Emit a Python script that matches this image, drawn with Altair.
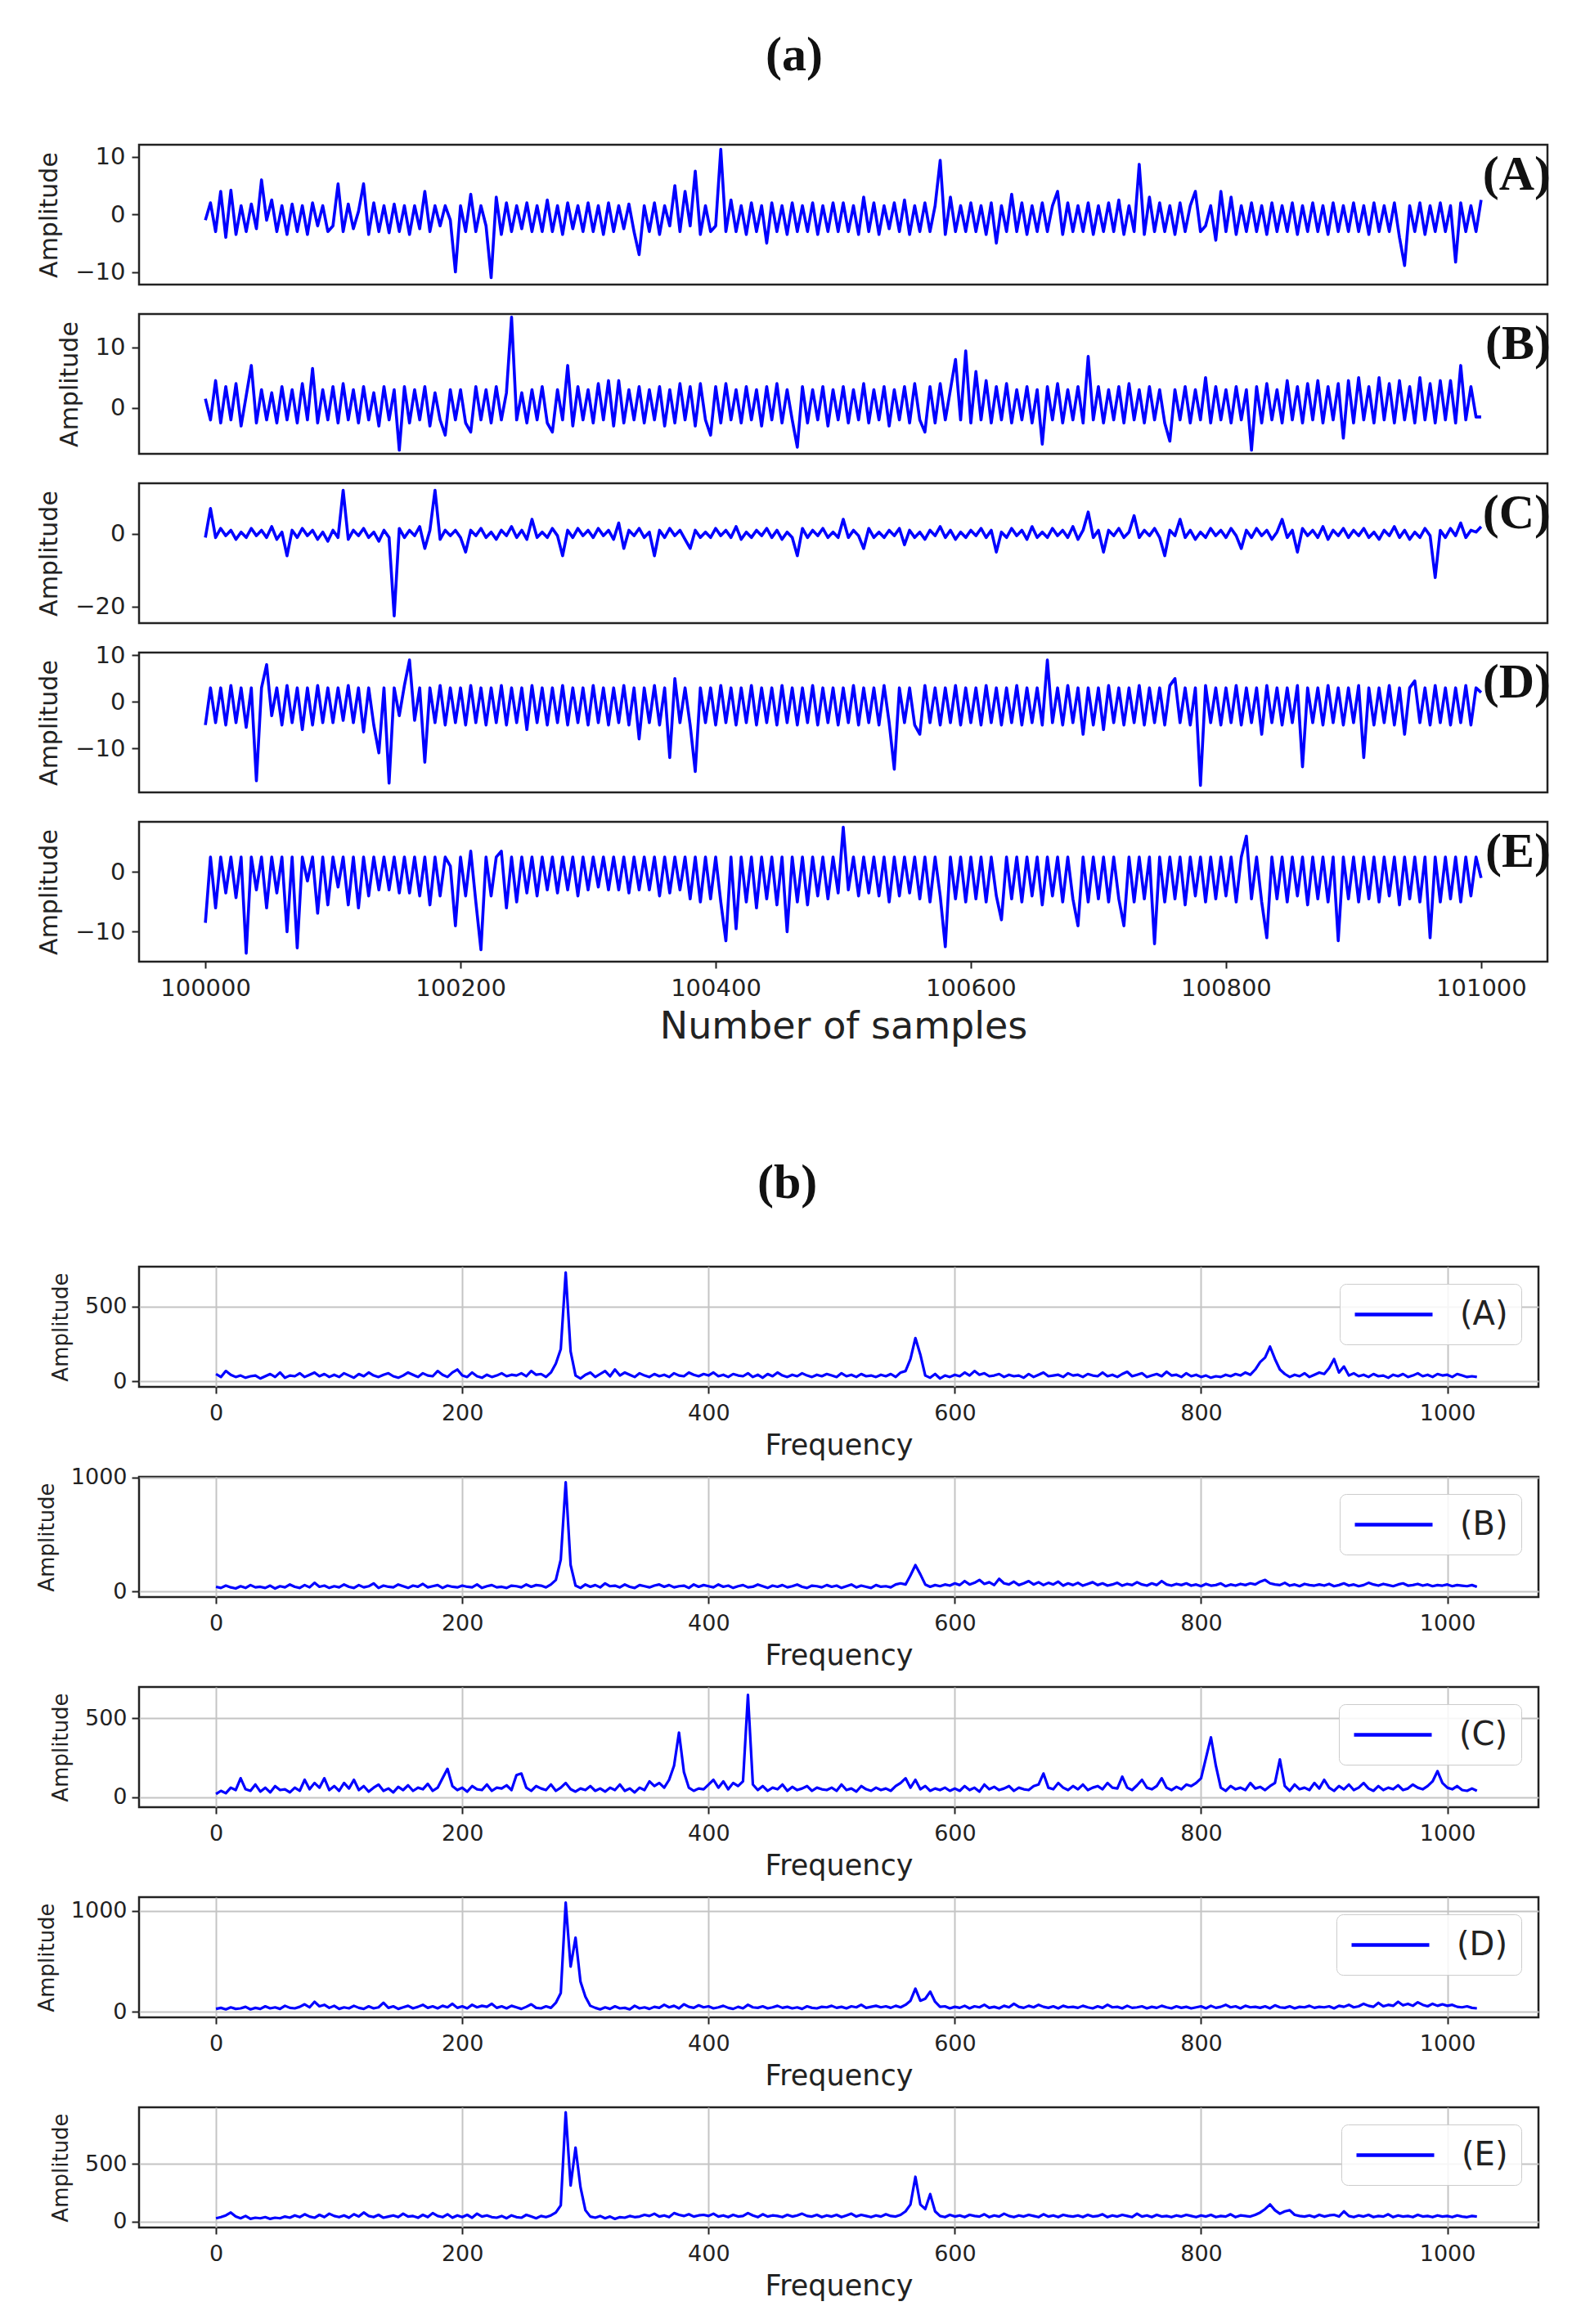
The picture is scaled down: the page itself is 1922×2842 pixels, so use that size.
import altair as alt
import pandas as pd

# ---------------- data ----------------
T0 = 100000
T_STEP = 4
F_STEP = 4
TIME_TICKS = [100000, 100200, 100400, 100600, 100800, 101000]
FREQ_TICKS = [0, 200, 400, 600, 800, 1000]

time_labels = ["(A)", "(B)", "(C)", "(D)", "(E)"]
freq_labels = ["(A)", "(B)", "(C)", "(D)", "(E)"]

time_A = (
    [-1, 2, -3, 4, -4, 4.2, -3.5, 1.5, -3, 1.8, -2.5, 6, -1, 2.5, -3, 1.5, -3.5, 1.8, -3, 1.5, -3.5, 2, -2, 1.5, -3]
    + [-2, 5.3, -3, 1.8, -2.5, 0.5, 5.3, -3.5, 2, -3, 1.5, -3.2, 1.8, -3, 1.5, -3.5, 1.5, -2.5, 4, -3, 1.5, -2, 1.5, -1, -10]
    + [1.5, -3, 3.5, -3, 1.5, -2, -11, 3, -3.5, 2, -3, 1.5, -2.5, 2, -3, 1.5, -3, 2.5, -3, 1.5, -3.5, 2, -2.5, 1.5, -3]
    + [2, -3, 1.5, -3.5, 2, -3, 1.5, -2.5, 1.8, -3, -7, 1.5, -3, 2, -3.5, 1.5, -2, 5, -3, 4, -2, 7.5, -3.5, 1.5, -3]
    + [-2, 11.3, -3, 2.5, -3, 1.5, -3.5, 2, -3, 1.5, -5, 2, -3, 1.5, -3.5, 2, -3, 1.5, -3, 2, -3.5, 1.5, -3, 2, -3]
    + [2, -3, 1.5, -3.5, 3, -3, 2, -3.5, 1.5, -2.5, 2, -3, 2.5, -3.5, 1.5, -3, 2, -3, 1.5, 9.4, -3.5, 3, -3, 1.5, -3]
    + [2, -3, 1.5, -3.5, 2, -5, 1.5, -3, 3.5, -3, 2, -3.5, 1.5, -3, 2, -3, 1.5, 4, -3.5, 2, -3, 1.5, -3, 2, -3.5]
    + [1.5, -3, 2, -3, 2.5, -3.5, 1.5, -3, 8.7, -3.5, 3, -3, 2, -3, 1.5, -3.5, 2, -3, 1.5, 4, -3, -2, 1.5, -4.5, 4]
    + [-3, 3, -3.5, 1.5, -3, 2, -3, 1.5, -3.5, 2, -3, 1.5, -3, 2, -3.5, 1.5, -3, 2, -3, 1.5, -3.5, 2, -3, 1.5, -3]
    + [2, -3, 1.5, -3.5, 2, -3, 1.5, -3, 2, -4, -8.9, 1.5, -3, 2, -3.5, 1.5, -3, 2, -3, 1.5, -8.3, 2, -3, 1.5, -3]
    + [2.5]
)

time_B = (
    [1.5, -2, 4.5, -2.5, 3.5, -2, 4, -3, 2, 7, -2.5, 3, -2, 2.5, -2.5, 3.5, -2, 3, -2.5, 4, -2, 6.5, -2.5, 3, -2]
    + [3.5, -2.5, 4, -2, 3, -2.5, 3.5, -2, 2.5, -3, 3.5, -2, 3, -7, 3.5, -2.5, 3, -2, 3.5, -3, 2.5, -2, -4.5, 3, -2]
    + [3, -2.5, -4, 3.5, -2, 3, -2.5, 3.5, -2, 2.5, 15, -2, 2.5, -2.5, 3, -2, 3.5, -2.5, -4, 3, -2, 7, -3, 3.5, -2]
    + [3, -2.5, 4, -2, 4.5, -3, 4.5, -2.5, 3, -2, 3.5, -2.5, 3, -2, 3.5, -3, 3, -2.5, 4, -2, 3.5, -3, 4, -2, -4.5]
    + [3.5, -2.5, 4, -2, 3, -2.5, 3.5, -2, 3, -3, 3.5, -2, 4, -2.5, 3, -2, -6.5, 3.5, -2.5, 3, -2, 3.5, -3, 3, -2]
    + [3.5, -2.5, 3, -2, 4, -2.5, 3, -2, 3.5, -3, 3, -2, 3.5, -2.5, 4, -2, -4, 3.5, -2.5, 4, -2, 3, 8, -2, 9.4]
    + [-2.5, 6, -2, 4.5, -2.5, 3.5, -2, 4, -2.5, 3, -2, 3.5, -2.5, 3, -6, 3.5, -2, 4, -2.5, 3, -2, 3.5, -2.5, 8.5, -2]
    + [3.5, -2.5, 3, -2, 3.5, -2.5, 4, -2, 3, -2.5, 3.5, -2, 3, -2.5, -5.5, 3, -2, 3.5, -2.5, 3, -2, 5, -2.5, 3.5, -2]
    + [3, -2.5, 3.5, -2, 3, -7, 3.5, -2.5, 4, -2, 3, -2.5, 4.5, -2, 3.5, -2.5, 4, -2, 4.5, -2.5, 3.5, -2, 4, -5, 4.5]
    + [-2.5, 5, -2, 3.5, -2.5, 5, -2, 4, -2.5, 4.5, -2, 3.5, -2.5, 5, -2, 4, -2.5, 4.5, -2, 4.5, -2.5, 7, -2, 3.5, -1.5]
    + [-1.5]
)

time_C = (
    [-1, 7, -1, 1.5, -0.5, 1, -1.5, 0.5, -1, 1.5, -0.5, 1, -1, 2, -1.5, 0.5, -6, 1, -1, 1.5, -0.5, 1, -1.5, 0.5, -2]
    + [1, -1, 12, -1.5, 1, -0.5, 1.5, -1, 0.5, -2, 1, -1, -22.5, 1.5, -1, 1, -0.5, 2, -4, 1, 12, -1.5, 1, -0.5, 1]
    + [-1, -5, 1, -0.5, 1.5, -1, 0.5, -1.5, 1, -0.5, 2, -1, 1, -1.5, 4, -1, 0.5, -1, 1.5, -0.5, -6, 1, -1, 1.5, -0.5]
    + [1, -1, 1.5, -0.5, 1, -1.5, 3, -4, 1, -0.5, 1.5, -1, 0.5, -6, 1, -1, 1.5, -0.5, 1, -1.5, -4, 1, -1, 0.5, -1]
    + [1.5, -0.5, 1, -1, 2, -1.5, 0.5, -1, 1, -0.5, 1.5, -1, 1, -1.5, 0.5, -1, -6, 1.5, -1, 1, -0.5, 1.5, -1, 0.5, -1]
    + [4, -1, 1, -0.5, -4, 1.5, -1, 0.5, -1, 1, -0.5, 1.5, -3, 1, -1, 0.5, -1.5, 1, -0.5, 2, -1, 1, -1.5, 0.5, -1]
    + [1, -0.5, 1.5, -1, 1, -5, 0.5, -1, 1.5, -0.5, 1, -1.5, 2, -1, 0.5, -1, 1.5, -0.5, 1, -1, 2, -1.5, 1, 6, -1]
    + [1, -5, 1, -0.5, 1.5, -1, 0.5, 5, -1, 1, -0.5, 1.5, -1, -6, 1, -0.5, 4, -1, 1, -1.5, 0.5, -1, 1.5, -0.5, 1]
    + [-1, 1.5, -0.5, -4, 1, -1, 1.5, -0.5, 1, -1.5, 0.5, 4, -1, 1, -5, 1.5, -0.5, 1, -1, 2, -1.5, 1, -0.5, 1.5, -1]
    + [1, -0.5, 1.5, -1, 0.5, -1.5, 1, -0.5, 2, -1, 1, -1.5, 0.5, -1, 1.5, -0.5, -12, 1, -1, 1.5, -0.5, 3, -1, 1, 0.5]
    + [2]
)

time_D = (
    [-5, 3, -4.5, 3, -5, 3.5, -4.5, 3, -5.5, 3, -17, 3, 8, -3, 3, -5, 3.5, -4.5, 3, -6, 3, -5, 3.5, -4.5, 3]
    + [-4.5, 3, -4, 3.5, -4.5, 3, -6.5, 3, -5, -11, 3, -17.5, 3, -3, 3.5, 9, -4, 3, -13, 3, -4.5, 3.5, -5, 3, -4.5]
    + [3, -5, 3.5, -4.5, 3, -5, 3, -4.5, 3.5, -5, 3, -4.5, 3, -6, 3.5, -4.5, 3, -5, 3, -4.5, 3.5, -5, 3, -4.5, 3]
    + [-5, 3.5, -4.5, 3, -5, 3, -4.5, 3.5, -5, 3, -8, 3, -4.5, 3.5, -5, 3, -12, 5, -4.5, 3, -5, -15, 3, -4.5, 3]
    + [-5, 3.5, -4.5, 3, -5, 3, -4.5, 3.5, -5, 3, -4.5, 3, -5, 3.5, -4.5, 3, -5, 3, -4.5, 3.5, -5, 3, -4.5, 3, -5]
    + [3, -4.5, 3.5, -5, 3, -4.5, 3, -5, 3.5, -4.5, -14.5, 3, -4.5, 3, -5, -7, 3.5, -4.5, 3, -5, 3, -4.5, 3.5, -5, 3]
    + [-4.5, 3, -5, 3.5, -4.5, 3, -5, 3, -4.5, 3.5, -5, 3, -4.5, 3, -5, 9, -4.5, 3, -5, 3.5, -4.5, 3, -7, 3, -5]
    + [3, -6, 3.5, -4.5, 3, -5, 3, -4.5, 3.5, -5, 3, -4.5, 3, -5, 3.5, 5, -4.5, 3, -5, 3, -18, 3.5, -4.5, 3, -5]
    + [3, -4.5, 3.5, -5, 3, -4.5, 3, -7, 3.5, -4.5, 3, -5, 3, -4.5, 3.5, -14, 3, -4.5, 3, -5, 3.5, -4.5, 3, -5, 3]
    + [-4.5, 3.5, -12, 3, -5, 3, -4.5, 3.5, -5, 3, -7, 3, 4.5, -4.5, 3, -5, 3.5, -4.5, 3, -5, 3, -4.5, 3.5, -5, 3]
    + [2]
)

time_E = (
    [-8.5, 2.5, -6, 2.5, -3.5, 2.5, -4.3, 2.5, -13.6, 2.5, -3, 2.5, -6, 2.5, -3.5, 2.5, -10, 2.5, -12.7, 2.5, -1.5, 2.5, -6.9, 2.5, -5.5]
    + [2.5, -2.5, 2.5, -5.5, 2.5, -6, 2.5, -4, 2.5, -3, 2.5, -3, 2.5, -3.5, 2.5, -3.5, 2.5, -4, 2.5, -5.5, 2.5, -4, 2.5, 1, -9]
    + [2.5, -4, 3.5, -5, -13, 2.5, -4, 2.5, 3.5, -6, 2.5, -5, 2.5, -3.5, 2.5, -4, 2.5, -3, 2.5, -3.5, 2.5, -3, 2.5, -4, 2.5]
    + [-3, 2.5, -2.5, 2.5, -3, 2.5, -3, 2.5, -3.5, 2.5, -3, 2.5, -3, 2.5, -4, 2.5, -3.5, 2.5, -3, 2.5, -4.5, 2.5, -5, 2.5, -4.5]
    + [2.5, -5, -11.5, 2.5, -9.5, 2.5, -5, 2.5, -6, 2.5, -4.5, 2.5, -5.5, 2.5, -10, 2.5, -5, 2.5, -5.5, 2.5, -4, 2.5, -4.5, 2.5, -3.5]
    + [7.5, -3, 2.5, -4, 2.5, -3.5, 2.5, -4, 2.5, -5, 2.5, -4, 2.5, -3.5, 2.5, -4.5, 2.5, -5, 2.5, -4, -12.5, 2.5, -4.5, 2.5, -5]
    + [2.5, -4.5, 2.5, -5, 2.5, -4, -8, 2.5, -4.5, 2.5, -5, 2.5, -4, 2.5, -5.5, 2.5, -4, 2.5, -5, 2.5, -4.5, -9, 2.5, -5, 2.5]
    + [-4.5, 2.5, -5, 2.5, -4.5, -9, 2.5, -5, 2.5, -4.5, 2.5, -12, 2.5, -5, 2.5, -4.5, 2.5, -5.5, 2.5, -4, 2.5, -5, 2.5, -4.5, 2.5]
    + [-4, 2.5, -5, 2.5, 6, -4.5, 2.5, -5, -11, 2.5, -4.5, 2.5, -5, 2.5, -4, 2.5, -5.5, 2.5, -4.5, 2.5, -5, 2.5, -11.5, 2.5, -4.5]
    + [2.5, -5, 2.5, -4.5, 2.5, -5, 2.5, -4, 2.5, -5.5, 2.5, -4.5, 2.5, -5, 2.5, -11, 2.5, -5, 2.5, -4.5, 2.5, -5, 2.5, -4, 2.5]
    + [-1]
)

freq_A = (
    [50, 30, 70, 45, 30, 40, 25, 35, 40, 20, 35, 50, 30, 60, 25, 40, 35, 55, 30, 45, 60, 35, 50, 30, 45]
    + [30, 55, 40, 25, 50, 35, 60, 40, 30, 45, 55, 35, 25, 40, 60, 45, 30, 55, 40, 35, 70, 45, 30, 60, 80]
    + [40, 30, 60, 35, 25, 45, 30, 40, 55, 35, 45, 40, 55, 35, 70, 45, 50, 30, 60, 120, 217, 728, 200, 40, 20]
    + [45, 60, 30, 50, 70, 35, 80, 40, 60, 45, 30, 55, 40, 30, 50, 35, 45, 30, 55, 40, 35, 60, 45, 35, 50]
    + [40, 60, 35, 45, 30, 50, 40, 35, 55, 30, 45, 25, 50, 35, 60, 40, 30, 45, 35, 55, 40, 30, 45, 35, 50]
    + [40, 30, 55, 35, 45, 30, 50, 35, 40, 30, 45, 35, 50, 30, 60, 70, 150, 290, 180, 40, 25, 50, 20, 40, 30]
    + [45, 35, 60, 40, 70, 45, 55, 35, 40, 50, 30, 45, 35, 40, 25, 50, 30, 45, 60, 35, 40, 45, 30, 55, 40]
    + [45, 30, 50, 40, 35, 60, 35, 45, 30, 50, 65, 35, 45, 55, 30, 40, 50, 35, 65, 40, 45, 30, 55, 35, 45]
    + [30, 40, 25, 35, 30, 45, 35, 50, 40, 60, 45, 80, 130, 160, 233, 150, 80, 50, 30, 45, 35, 55, 30, 45, 60]
    + [50, 90, 150, 60, 100, 40, 55, 35, 45, 30, 50, 35, 40, 25, 45, 35, 50, 30, 40, 55, 35, 45, 30, 50, 40]
    + [45, 30, 50, 40, 30, 35, 30]
)

freq_B = (
    [40, 30, 50, 35, 25, 45, 30, 55, 35, 40, 30, 50, 25, 45, 35, 60, 40, 30, 55, 35, 75, 40, 50, 30, 45]
    + [35, 60, 40, 30, 55, 35, 45, 70, 30, 50, 40, 35, 60, 45, 30, 50, 40, 65, 35, 45, 55, 30, 50, 40, 35]
    + [50, 40, 35, 60, 30, 45, 55, 35, 40, 30, 50, 45, 35, 60, 40, 55, 50, 35, 60, 100, 280, 957, 230, 50, 30]
    + [60, 40, 55, 35, 70, 45, 50, 35, 60, 40, 30, 55, 45, 35, 50, 60, 40, 55, 35, 45, 50, 30, 60, 40, 55]
    + [45, 35, 60, 40, 50, 30, 45, 55, 35, 40, 60, 45, 30, 50, 40, 55, 35, 45, 60, 40, 30, 50, 45, 35, 55]
    + [40, 50, 30, 45, 60, 35, 50, 40, 30, 55, 40, 45, 35, 60, 70, 60, 140, 230, 150, 60, 40, 55, 45, 60, 50]
    + [70, 55, 90, 60, 75, 100, 65, 80, 55, 110, 70, 60, 85, 55, 70, 90, 60, 80, 55, 75, 60, 85, 50, 70, 55]
    + [75, 50, 65, 80, 55, 70, 50, 60, 75, 50, 65, 55, 80, 60, 50, 70, 55, 90, 60, 50, 65, 55, 70, 50, 60]
    + [45, 65, 50, 55, 70, 45, 60, 50, 65, 55, 70, 60, 85, 100, 70, 60, 55, 75, 50, 60, 45, 65, 55, 50, 60]
    + [50, 65, 45, 55, 70, 50, 60, 45, 55, 75, 60, 50, 65, 55, 45, 60, 70, 50, 55, 65, 50, 60, 45, 55, 50]
    + [60, 45, 55, 50, 45, 55, 40]
)

freq_C = (
    [20, 40, 25, 60, 45, 120, 50, 40, 80, 35, 60, 30, 70, 45, 50, 30, 60, 40, 110, 50, 90, 60, 120, 45, 70]
    + [40, 90, 55, 110, 45, 70, 35, 60, 80, 40, 55, 30, 65, 45, 75, 40, 60, 50, 85, 40, 60, 120, 180, 70, 45]
    + [60, 35, 70, 50, 45, 80, 40, 60, 55, 75, 45, 140, 150, 60, 40, 70, 55, 45, 80, 40, 60, 90, 50, 35, 55]
    + [45, 70, 40, 55, 35, 60, 45, 80, 40, 55, 30, 60, 45, 100, 70, 90, 60, 110, 200, 410, 160, 60, 40, 55, 50]
    + [80, 110, 60, 100, 50, 90, 70, 100, 650, 80, 45, 70, 40, 60, 50, 80, 40, 65, 45, 55, 70, 40, 60, 50, 45]
    + [60, 40, 80, 45, 55, 35, 70, 50, 40, 60, 45, 55, 40, 70, 90, 120, 60, 110, 50, 70, 40, 55, 45, 60, 40]
    + [55, 40, 70, 45, 60, 35, 80, 50, 65, 45, 55, 70, 40, 60, 50, 45, 70, 80, 150, 60, 50, 90, 60, 45, 70]
    + [50, 80, 45, 60, 70, 50, 90, 60, 55, 130, 60, 45, 75, 110, 60, 50, 70, 120, 60, 45, 65, 50, 80, 70, 90]
    + [120, 250, 380, 200, 60, 40, 70, 50, 60, 45, 90, 55, 65, 45, 70, 90, 240, 70, 40, 80, 50, 60, 45, 90, 55]
    + [110, 60, 40, 70, 50, 80, 45, 60, 90, 55, 40, 70, 45, 60, 50, 75, 45, 55, 80, 60, 50, 70, 100, 165, 90]
    + [60, 50, 70, 45, 40, 55, 40]
)

freq_D = (
    [30, 40, 25, 45, 30, 35, 50, 25, 40, 30, 55, 35, 45, 30, 60, 40, 35, 50, 75, 45, 100, 55, 70, 40, 60]
    + [30, 45, 35, 60, 40, 30, 55, 35, 45, 90, 40, 55, 30, 45, 60, 35, 50, 70, 40, 55, 35, 60, 45, 80, 40]
    + [55, 35, 70, 45, 60, 50, 80, 40, 55, 35, 60, 45, 30, 50, 75, 40, 35, 55, 40, 90, 187, 1080, 448, 733, 300]
    + [150, 60, 40, 25, 45, 30, 55, 35, 40, 25, 60, 35, 45, 30, 50, 40, 70, 45, 60, 35, 75, 50, 40, 65, 45]
    + [55, 35, 45, 60, 40, 30, 50, 35, 70, 45, 40, 55, 35, 45, 60, 40, 50, 35, 45, 30, 55, 40, 35, 50, 45]
    + [60, 40, 50, 35, 55, 45, 70, 40, 50, 60, 45, 55, 40, 60, 45, 70, 110, 230, 110, 130, 200, 100, 50, 55, 35]
    + [50, 40, 60, 35, 55, 45, 70, 40, 50, 35, 60, 45, 80, 50, 40, 60, 45, 70, 50, 40, 55, 35, 60, 45, 50]
    + [40, 60, 45, 35, 55, 40, 70, 45, 50, 35, 60, 40, 45, 55, 35, 50, 40, 60, 45, 35, 55, 40, 50, 35, 45]
    + [55, 35, 60, 40, 50, 70, 45, 55, 35, 60, 45, 50, 40, 55, 35, 65, 45, 40, 55, 35, 50, 45, 60, 40, 50]
    + [45, 55, 35, 60, 50, 70, 45, 55, 80, 60, 50, 90, 55, 70, 60, 100, 65, 80, 60, 95, 70, 55, 80, 60, 75]
    + [60, 70, 50, 45, 55, 40, 35]
)

freq_E = (
    [30, 40, 55, 80, 45, 30, 50, 25, 35, 30, 40, 25, 35, 30, 45, 35, 55, 40, 65, 45, 35, 60, 40, 70, 50]
    + [40, 55, 35, 65, 45, 80, 50, 40, 60, 35, 45, 55, 40, 70, 45, 50, 35, 60, 40, 75, 50, 40, 65, 35, 55]
    + [40, 60, 35, 70, 45, 55, 40, 35, 50, 30, 55, 40, 35, 60, 45, 30, 50, 40, 55, 80, 143, 950, 314, 643, 300]
    + [100, 45, 35, 50, 30, 45, 25, 40, 35, 50, 40, 45, 60, 50, 70, 45, 55, 40, 75, 60, 50, 65, 45, 55, 60]
    + [50, 70, 45, 55, 40, 60, 45, 50, 75, 55, 40, 65, 45, 55, 50, 40, 60, 45, 55, 70, 50, 45, 60, 40, 55]
    + [45, 60, 40, 55, 70, 45, 60, 50, 40, 55, 45, 65, 50, 45, 60, 90, 150, 390, 150, 110, 240, 90, 50, 40, 60]
    + [45, 55, 40, 60, 50, 45, 65, 40, 55, 45, 70, 50, 40, 55, 45, 60, 50, 40, 65, 45, 55, 40, 60, 50, 45]
    + [55, 40, 60, 45, 50, 65, 40, 55, 45, 60, 50, 40, 70, 45, 55, 40, 60, 45, 50, 40, 55, 45, 60, 50, 40]
    + [55, 45, 60, 40, 50, 45, 65, 40, 55, 50, 45, 60, 80, 110, 150, 100, 70, 90, 100, 60, 50, 45, 55, 40, 60]
    + [45, 55, 60, 45, 90, 50, 40, 55, 45, 60, 40, 50, 45, 65, 40, 55, 45, 50, 40, 60, 45, 50, 40, 55, 45]
    + [50, 40, 55, 45, 40, 50, 45]
)

time_series = [time_A, time_B, time_C, time_D, time_E]
time_yticks = [[-10, 0, 10], [0, 10], [-20, 0], [-10, 0, 10], [-10, 0]]
time_ydom = [[-12.2, 12.1], [-7.6, 15.5], [-24.5, 13.9], [-19.5, 10.6], [-15.0, 8.4]]

freq_series = [freq_A, freq_B, freq_C, freq_D, freq_E]
freq_yticks = [[0, 500], [0, 1000], [0, 500], [0, 1000], [0, 500]]
freq_ydom = [[-36, 767], [-50, 1005], [-64, 700], [-54, 1134], [-50, 993]]

# ---------------- layout constants ----------------
W_T, H_T = 1722, 171
W_F, H_F = 1711, 147
BLUE = "#0000ff"
INK = "#222222"
SANS = "DejaVu Sans"
SERIF = "Liberation Serif"


def time_panel(vals, lab, yt, yd, show_x):
    df = pd.DataFrame({"x": [T0 + T_STEP * i for i in range(len(vals))], "y": vals})
    if show_x:
        xax = alt.Axis(values=TIME_TICKS, format="d", title="Number of samples",
                       labelFontSize=29, titleFontSize=46, tickSize=8, tickWidth=2,
                       labelPadding=10, titlePadding=10, grid=False, domain=False)
    else:
        xax = None
    line = alt.Chart(df).mark_line(color=BLUE, strokeWidth=3.6, strokeJoin="round").encode(
        x=alt.X("x:Q", scale=alt.Scale(domain=[99948, 101052], nice=False, zero=False), axis=xax),
        y=alt.Y("y:Q", scale=alt.Scale(domain=yd, nice=False, zero=False),
                axis=alt.Axis(values=yt, format="d", title="Amplitude", labelFontSize=29,
                              titleFontSize=30, tickSize=9, tickWidth=2, labelPadding=8,
                              titlePadding=16, grid=False, domain=False)),
    )
    txt = alt.Chart(pd.DataFrame({"lab": [lab]})).mark_text(
        font=SERIF, fontWeight="bold", fontSize=60, align="right", baseline="middle", color="#111111"
    ).encode(x=alt.value(W_T + 4), y=alt.value(37), text="lab:N")
    return alt.layer(line, txt).properties(width=W_T, height=H_T)


def freq_panel(vals, lab, yt, yd):
    df = pd.DataFrame({"f": [F_STEP * i for i in range(len(vals))], "a": vals, "s": [lab] * len(vals)})
    return alt.Chart(df).mark_line(strokeWidth=3.2, strokeJoin="round").encode(
        x=alt.X("f:Q", scale=alt.Scale(domain=[-62.5, 1074], nice=False, zero=False),
                axis=alt.Axis(values=FREQ_TICKS, format="d", title="Frequency", labelFontSize=27,
                              titleFontSize=35, tickSize=8, tickWidth=2, labelPadding=11,
                              titlePadding=9, grid=True, gridColor="#c4c4c4", gridWidth=2,
                              domain=False)),
        y=alt.Y("a:Q", scale=alt.Scale(domain=yd, nice=False, zero=False),
                axis=alt.Axis(values=yt, format="d", title="Amplitude", labelFontSize=27,
                              titleFontSize=26, tickSize=9, tickWidth=2, labelPadding=6,
                              titlePadding=16, grid=True, gridColor="#c4c4c4", gridWidth=2,
                              domain=False)),
        color=alt.Color("s:N", scale=alt.Scale(domain=[lab], range=[BLUE]),
                        legend=alt.Legend(title=None, orient="top-right", offset=21,
                                          symbolType="M-1,0H4", symbolSize=1444,
                                          symbolStrokeWidth=4.5, labelFontSize=40, labelFont=SANS,
                                          labelColor=INK, labelOffset=88, padding=16,
                                          fillColor="rgba(255,255,255,0.85)",
                                          strokeColor="#cccccc", cornerRadius=8)),
    ).properties(width=W_F, height=H_F)


time_charts = [time_panel(time_series[i], time_labels[i], time_yticks[i], time_ydom[i], i == 4)
               for i in range(5)]
freq_charts = [freq_panel(freq_series[i], freq_labels[i], freq_yticks[i], freq_ydom[i])
               for i in range(5)]

title_a = alt.TitleParams(text="(a)", font=SERIF, fontWeight="bold", fontSize=60,
                          color="#111111", anchor="middle", offset=77)
title_b = alt.TitleParams(text="(b)", font=SERIF, fontWeight="bold", fontSize=60,
                          color="#111111", anchor="middle", offset=70)

time_group = alt.vconcat(*time_charts, spacing=36, bounds="flush", title=title_a)
freq_group = alt.vconcat(*freq_charts, spacing=110, bounds="flush", title=title_b).resolve_scale(
    color="independent").resolve_legend(color="independent")

chart = alt.vconcat(time_group, freq_group, spacing=136).properties(
    padding={"left": 35, "top": 29, "right": 5, "bottom": 5}
).configure_view(
    stroke=INK, strokeWidth=2.5
).configure_axis(
    labelFont=SANS, titleFont=SANS, labelColor=INK, titleColor=INK,
    titleFontWeight="normal", tickColor=INK
).configure_title(
    font=SERIF
)

chart.save("out.html", embed_options={"renderer": "svg", "actions": False})
